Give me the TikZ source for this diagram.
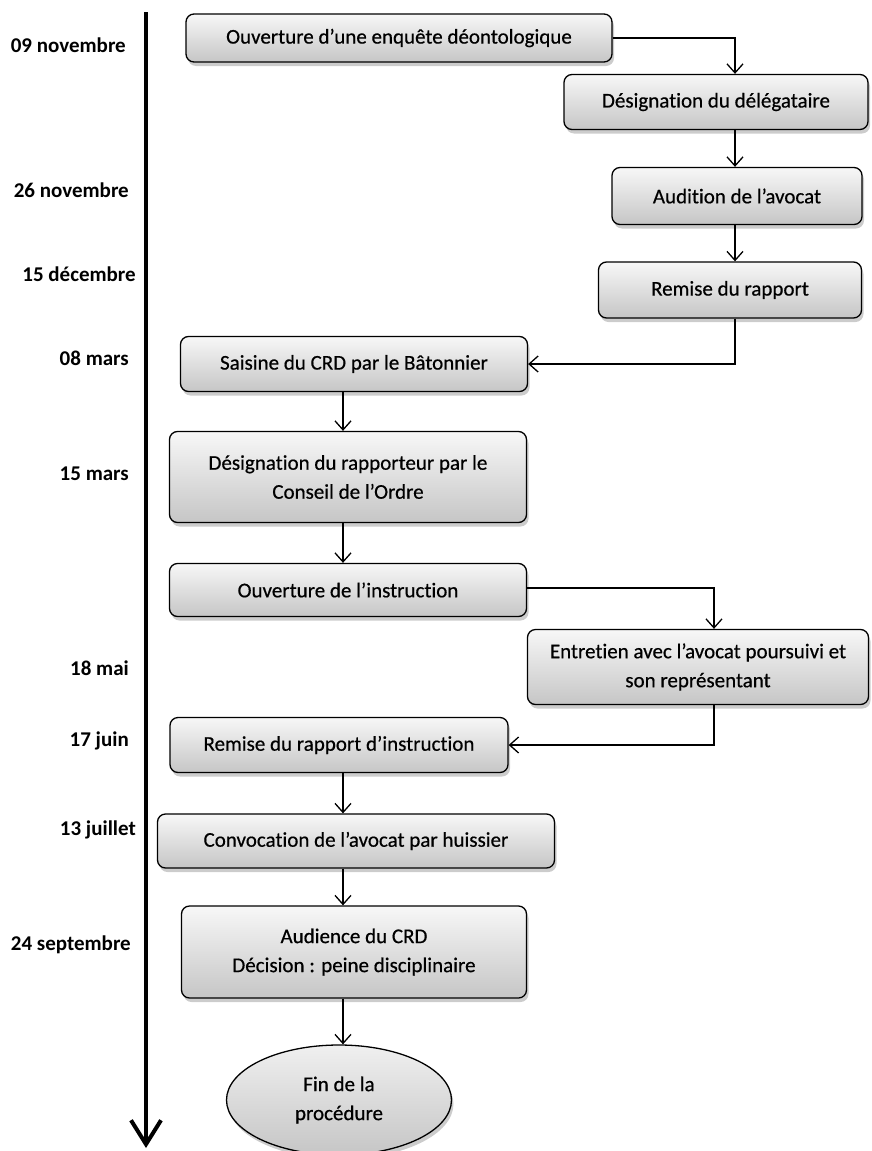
\documentclass[tikz,border=0pt]{standalone}
\usepackage{fontspec}
\setmainfont{Carlito}[RawFeature={-liga;-clig;-calt;-dlig}]
\newfontfamily\boxfont[FakeBold=0.5,RawFeature={-liga;-clig;-calt;-dlig}]{Carlito}
\newcommand{\tiNoLig}{t\kern0pt i}
\usetikzlibrary{arrows.meta,shapes.geometric,shadows}
\begin{document}
\begin{tikzpicture}[x=1pt,y=-1pt,
  stepbox/.style={draw=black, line width=1.3pt, rounded corners=8pt,
    top color=gray!6, bottom color=gray!45, align=center,
    inner sep=0pt, font=\boxfont\fontsize{21}{29}\selectfont,
    drop shadow={shadow xshift=2pt, shadow yshift=-4pt, opacity=0.4, fill=gray}},
  endbox/.style={draw=black, line width=1.3pt, ellipse,
    top color=gray!12, bottom color=gray!45, align=center,
    inner sep=0pt, font=\boxfont\fontsize{21}{29}\selectfont,
    drop shadow={shadow xshift=2pt, shadow yshift=-4pt, opacity=0.4, fill=gray}},
  conn/.style={line width=1.3pt, -{Straight Barb[length=9pt,width=16pt,line width=1.3pt]}},
  datelbl/.style={font=\fontsize{21}{25}\selectfont\bfseries, anchor=east, inner sep=0pt}
]
\useasboundingbox (0,0) rectangle (871,1151);

% timeline
\coordinate (tA) at (146,12);
\coordinate (tB) at (146,1148);
\draw[line width=4pt, -{Straight Barb[length=24pt,width=30pt,line width=4pt]}] (tA) -- (tB);

% dates
\node[datelbl] (d1) at (126,45) {09 novembre};
\node[datelbl] (d2) at (129,190) {26 novembre};
\node[datelbl] (d3) at (136,274) {15 décembre};
\node[datelbl] (d4) at (129,358) {08 mars};
\node[datelbl] (d5) at (129,474) {15 mars};
\node[datelbl] (d6) at (129,668) {18 mai};
\node[datelbl] (d7) at (129,741) {17 juin};
\node[datelbl] (d8) at (136,830) {13 juillet};
\node[datelbl] (d9) at (131,945) {24 septembre};

% boxes
\node[stepbox, minimum width=426pt, minimum height=48pt] (b1) at (399,38) {Ouverture d’une enquête déontologique};
\node[stepbox, minimum width=304pt, minimum height=55pt] (b2) at (716,102) {Désigna\tiNoLig on du délégataire};
\node[stepbox, minimum width=250pt, minimum height=57pt] (b3) at (737,196) {Audi\tiNoLig on de l’avocat};
\node[stepbox, minimum width=263pt, minimum height=56pt] (b4) at (730,290) {Remise du rapport};
\node[stepbox, minimum width=347pt, minimum height=55pt] (b5) at (354,364) {Saisine du CRD par le Bâtonnier};
\node[stepbox, minimum width=357pt, minimum height=91pt] (b6) at (348,477) {Désigna\tiNoLig on du rapporteur par le\\Conseil de l’Ordre};
\node[stepbox, minimum width=357pt, minimum height=53pt] (b7) at (348,590) {Ouverture de l’instruc\tiNoLig on};
\node[stepbox, minimum width=341pt, minimum height=75pt] (b8) at (698,667) {Entre\tiNoLig en avec l’avocat poursuivi et\\son représentant};
\node[stepbox, minimum width=338pt, minimum height=55pt] (b9) at (339,745) {Remise du rapport d’instruc\tiNoLig on};
\node[stepbox, minimum width=397pt, minimum height=54pt] (b10) at (356,841) {Convoca\tiNoLig on de l’avocat par huissier};
\node[stepbox, minimum width=345pt, minimum height=92pt] (b11) at (354,952) {Audience du CRD\\Décision : peine disciplinaire};
\node[endbox, minimum width=225pt, minimum height=110pt] (b12) at (339,1100) {Fin de la\\procédure};

% connectors
\draw[conn] (b1.east) -| (b2.north -| 735,0);
\draw[conn] (b2.south -| 735,0) -- (b3.north -| 735,0);
\draw[conn] (b3.south -| 735,0) -- (b4.north -| 735,0);
\draw[conn] (b4.south -| 735,0) |- (b5.east);
\draw[conn] (b5.south -| 343,0) -- (b6.north -| 343,0);
\draw[conn] (b6.south -| 343,0) -- (b7.north -| 343,0);
\draw[conn] ([yshift=2pt]b7.east) -| (b8.north -| 714,0);
\draw[conn] (b8.south -| 714,0) |- (b9.east);
\draw[conn] (b9.south -| 343,0) -- (b10.north -| 343,0);
\draw[conn] (b10.south -| 343,0) -- (b11.north -| 343,0);
\draw[conn] (b11.south -| 343,0) -- (b12.north -| 343,0);
\end{tikzpicture}
\end{document}
